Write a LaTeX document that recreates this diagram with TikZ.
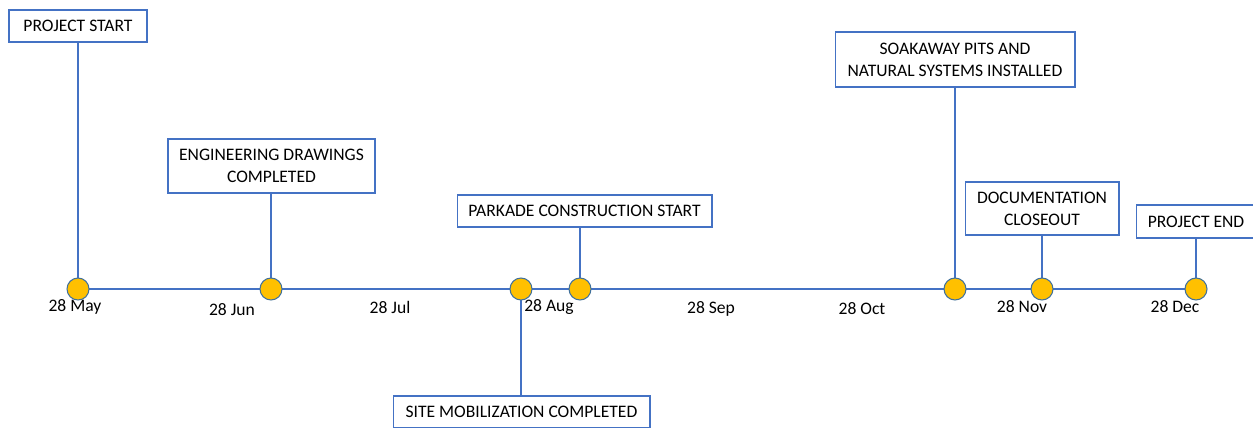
\documentclass[tikz,border=0pt]{standalone}
\usepackage{fontspec}
\setmainfont{Carlito}
\definecolor{lineblue}{HTML}{4472C4}
\definecolor{dotgold}{HTML}{FFC000}
\definecolor{dotedge}{HTML}{41719C}
\tikzset{
	milestone/.style={draw=lineblue, fill=white, align=center, inner sep=0pt, font=\fontsize{10}{12.5}\selectfont},
	dot/.style={circle, draw=dotedge, fill=dotgold, minimum size=0.44cm, inner sep=0pt},
	datelabel/.style={font=\fontsize{10}{12}\selectfont, inner sep=0pt}
}
\begin{document}
\begin{tikzpicture}[x=0.02cm, y=-0.02cm, line width=0.6pt]
	\useasboundingbox (0,0) rectangle (1253,427);
	\clip (0,0) rectangle (1253,427);
	\fill[white] (0,0) rectangle (1253,427);
	
	% timeline points
	\coordinate (c1) at (78,289);
	\coordinate (c2) at (271,289);
	\coordinate (c3) at (521,289);
	\coordinate (c4) at (580,289);
	\coordinate (c5) at (955,289);
	\coordinate (c6) at (1042,289);
	\coordinate (c7) at (1196,289);
	\draw[lineblue] (c1) -- (c7);
	
	% boxes
	\node (start) at (78,26) [milestone, minimum width=2.76cm, minimum height=0.64cm]{PROJECT START};
	\node (eng) at (271.5,166) [milestone, minimum width=4.14cm, minimum height=1.08cm]{ENGINEERING DRAWINGS\\COMPLETED};
	\node (park) at (584.5,211) [milestone, minimum width=5.1cm, minimum height=0.64cm]{PARKADE CONSTRUCTION START};
	\node (site) at (521.5,412) [milestone, minimum width=5.14cm, minimum height=0.64cm]{SITE MOBILIZATION COMPLETED};
	\node (soak) at (955,59.5) [milestone, minimum width=4.8cm, minimum height=1.1cm]{SOAKAWAY PITS AND\\NATURAL SYSTEMS INSTALLED};
	\node (doc) at (1042,208.5) [milestone, minimum width=3.08cm, minimum height=1.06cm]{DOCUMENTATION\\CLOSEOUT};
	\node (end) at (1196,221.5) [milestone, minimum width=2.4cm, minimum height=0.66cm]{PROJECT END};
	
	% connectors
	\draw[lineblue] (c1) -- (c1 |- start.south);
	\draw[lineblue] (c2) -- (c2 |- eng.south);
	\draw[lineblue] (c3) -- (c3 |- site.north);
	\draw[lineblue] (c4) -- (c4 |- park.south);
	\draw[lineblue] (c5) -- (c5 |- soak.south);
	\draw[lineblue] (c6) -- (c6 |- doc.south);
	\draw[lineblue] (c7) -- (c7 |- end.south);
	
	\foreach \i in {1,...,7}{
		\node (p\i) at (c\i) [dot]{};
	}
	
	% month labels
	\foreach \x/\y/\m in {75/307/May, 232/310/Jun, 390/307/Jul, 549/307/Aug, 711/309/Sep, 862/309/Oct, 1022/307/Nov, 1175/307/Dec}{
		\node (m\m) at (\x,\y) [datelabel]{28 \m};
	}
\end{tikzpicture}
\end{document}
